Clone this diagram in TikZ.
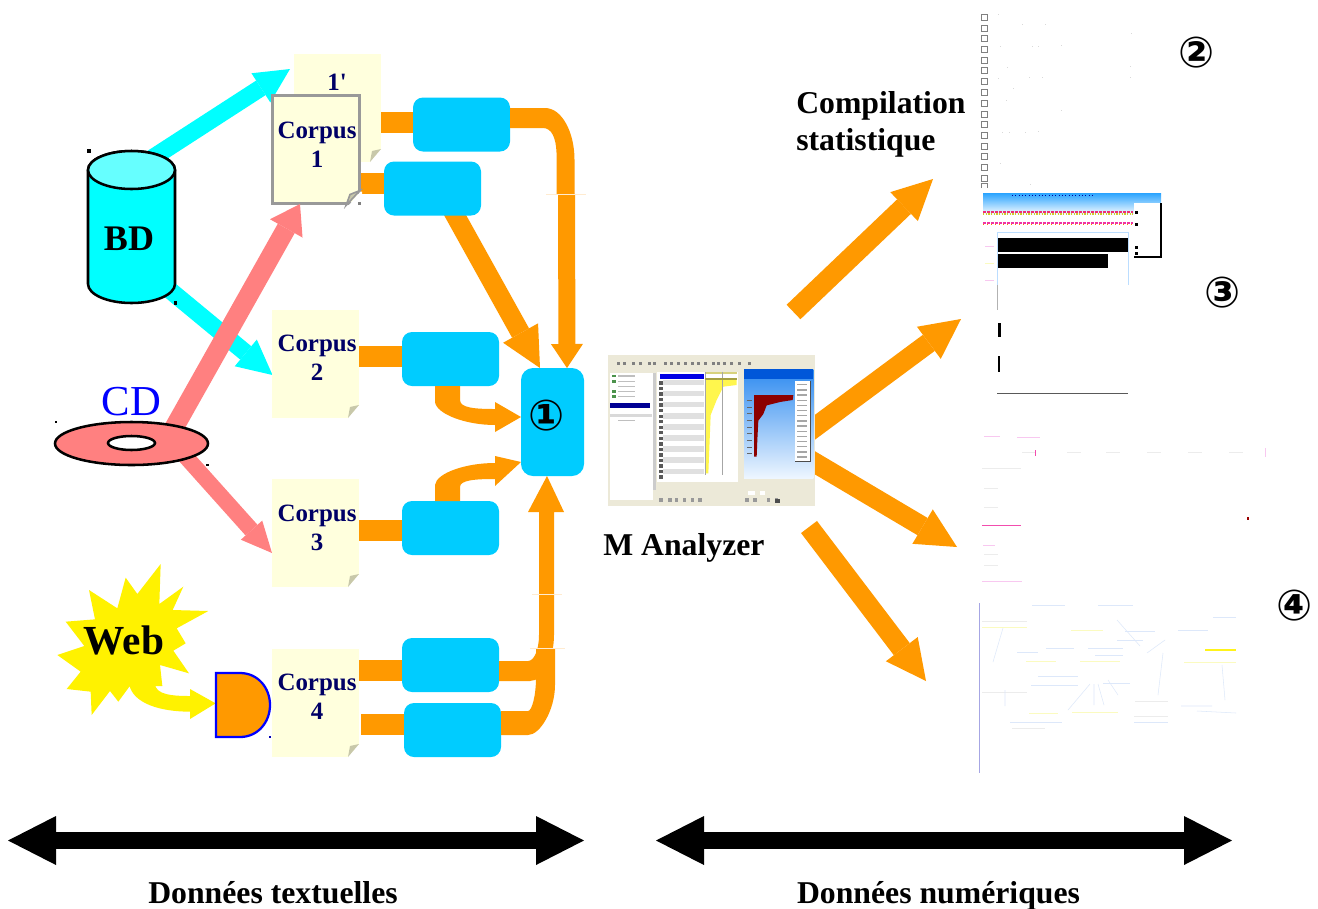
\documentclass[tikz,border=0pt]{standalone}
\usepackage{fontspec}
\setmainfont{Liberation Serif}
\newfontfamily\plainserif{Liberation Serif}
\newfontfamily\symf{DejaVu Sans}
\usetikzlibrary{arrows.meta,calc}
\definecolor{orangec}{HTML}{FF9900}
\definecolor{bluec}{HTML}{00CCFF}
\definecolor{paper}{HTML}{FFFFDD}
\definecolor{foldc}{HTML}{C8C8AA}
\definecolor{navyc}{HTML}{000066}
\definecolor{pinkc}{HTML}{FF8080}
\definecolor{cyanc}{HTML}{00FFFF}
\definecolor{cyantop}{HTML}{66FFFF}
\definecolor{uibg}{HTML}{ECE9D8}
\definecolor{hair}{HTML}{FFEBD0}
\definecolor{paleb}{HTML}{DDE8FA}
\definecolor{framec}{HTML}{BBDDFF}
\definecolor{paley}{HTML}{FBFBC0}
\definecolor{paleg}{HTML}{ECECEC}
\definecolor{palem}{HTML}{F8C8F0}
\pgfdeclarelayer{back}
\pgfsetlayers{back,main}
\tikzset{
  barrow/.style n args={3}{line width=#1,-{Triangle[length=#2,width=#3,line width=0pt]}},
  cyanarrow/.style={draw=cyanc,fill=cyanc,barrow={13pt}{26pt}{26pt}},
  pinkarrow/.style={draw=pinkc,fill=pinkc,barrow={14.5pt}{21pt}{28pt}},
  pinksmall/.style={draw=pinkc,fill=pinkc,barrow={12pt}{23pt}{21.5pt}},
  bigorange/.style={draw=orangec,fill=orangec,barrow={15pt}{30pt}{30pt}},
  pipe/.style={draw=orangec,line width=15.75pt},
  flow/.style={fill=orangec},
  corpusbox/.style={fill=paper,inner sep=0pt,outer sep=0pt,minimum width=65.25pt,minimum height=81pt},
  corpustxt/.style={text=navyc,font=\bfseries\fontsize{18.7}{21.8}\selectfont,align=center,inner sep=0pt},
  procbox/.style={fill=bluec,rounded corners=7.5pt,inner sep=0pt,outer sep=0pt,minimum width=72.75pt,minimum height=40.5pt},
  labeltxt/.style={font=\bfseries\fontsize{23.8}{27.8}\selectfont,inner sep=0pt},
  numtxt/.style={font=\symf\bfseries\fontsize{32}{35}\selectfont,inner sep=0pt},
  blackarrow/.style={draw=black,line width=12.4pt,{Triangle[length=36pt,width=36.75pt,line width=0pt]}-{Triangle[length=36pt,width=36.75pt,line width=0pt]}},
  hairline/.style={draw=hair,line width=.5pt},
  speck/.style={fill=black,minimum size=3pt,inner sep=0pt,outer sep=0pt}
}
\newcommand{\dogear}[1]{%
  \fill[white,shift={(#1.south east)}] (-11,0) -- (0,-13) -- (1,-13) -- (1,1) -- (-11,1) -- cycle;
  \fill[foldc,shift={(#1.south east)}] (-11,0) -- (0,-13) -- (-9,-11) -- cycle;}
\begin{document}
\begin{tikzpicture}[x=.75pt,y=-.75pt]
\useasboundingbox (0,0) rectangle (1318,908);
\begin{pgfonlayer}{back}
\fill[white] (0,0) rectangle (1318,908);
\end{pgfonlayer}

% ---------- named end points
\coordinate (tipA) at (290,69);   \coordinate (tailA) at (140,166);
\coordinate (tipB) at (272.5,375);  \coordinate (tailB) at (160,282);
\coordinate (tipC) at (300,204);  \coordinate (tailC) at (170,435);
\coordinate (tipD) at (272,553);  \coordinate (tailD) at (178,448);
\coordinate (tipE) at (540,368);
\coordinate (tipF) at (567,368);  \coordinate (tailF) at (566.5,194);
\coordinate (r1s) at (793.5,312); \coordinate (r1e) at (933,179);
\coordinate (r2s) at (795,442);   \coordinate (r2e) at (961,319);
\coordinate (r3s) at (795,451);   \coordinate (r3e) at (957,547);
\coordinate (r4s) at (809,527);   \coordinate (r4e) at (926,681);
\coordinate (la) at (8,840.5);    \coordinate (lb) at (584,840.5);
\coordinate (ra) at (656,840.5);  \coordinate (rb) at (1232,840.5);

% ---------- source arrows
\draw[cyanarrow] (tailA) -- (tipA);
\draw[cyanarrow] (tailB) -- (tipB);
\draw[pinksmall] (tailD) -- (tipD);

% ---------- corpus pages
\node[corpusbox] (c1b) at (337.5,108) {};
\dogear{c1b}
\node[corpusbox] (c2) at (315.5,364) {};  \dogear{c2}
\node[corpusbox] (c3) at (315.5,533) {};  \dogear{c3}
\node[corpusbox] (c4) at (315.5,703) {};  \dogear{c4}

% ---------- boxes
\node[procbox] (b1) at (461.5,124.5) {};
\node[procbox] (b2) at (432.5,188.5) {};
\node[procbox] (b3) at (450.5,359) {};
\node[procbox] (b4) at (450.5,528) {};
\node[procbox] (b5) at (450.5,665) {};
\node[procbox] (b6) at (452.5,730) {};
\node[fill=bluec,rounded corners=9pt,inner sep=0pt,outer sep=0pt,minimum width=47.25pt,minimum height=81pt] (hub) at (552.5,422) {};

% ---------- pipes corpus to box
\draw[pipe] (c1b.east |- 0,122.5) -- (b1.west |- 0,122.5);
\draw[pipe] (359,183.5) -- (b2.west |- 0,183.5);
\draw[pipe] (c2.east |- 0,356.5) -- (b3.west |- 0,356.5);
\draw[pipe] (c3.east |- 0,530) -- (b4.west |- 0,530);
\draw[pipe] (c4.east |- 0,670) -- (b5.west |- 0,670);
\draw[pipe] (361,724.5) -- (b6.west |- 0,724.5);

% ---------- box 1 to hub
\fill[flow,shift={(b1.east)}] (0,-16.5) -- (35,-16.5) .. controls (52,-16.5) and (64.5,8) .. (64.5,35) -- (64.5,69.5) -- (46.5,69.5) -- (46.5,28) .. controls (46,14) and (42,3.5) .. (33,3.5) -- (0,3.5) -- cycle;
\draw[orangec,line width=12.75pt,-{Triangle[length=18pt,width=24pt,line width=0pt]}] (tailF) -- (tipF);
\draw[hairline] (546,194) -- (586,194);

% ---------- box 2 to hub
\begin{pgfonlayer}{back}
\draw[draw=orangec,barrow={14.5pt}{30pt}{30pt}] (450,206) -- (tipE);
\end{pgfonlayer}

% ---------- box 3 and box 4 to hub
\fill[flow,shift={(b3.south)}] (-15.5,0) -- (-15.5,16) .. controls (-14,28) and (15,39) .. (44.5,39) -- (44.5,46) -- ([yshift=3.75pt]hub.west) -- (44.5,16) -- (44.5,23) .. controls (25,23) and (9.5,22) .. (9.5,14) -- (9.5,0) -- cycle;
\fill[flow,shift={(b4.north)}] (-15.5,0) -- (-15.5,-16) .. controls (-14,-28) and (15,-38) .. (44.5,-38) -- (44.5,-45) -- ([yshift=-30pt]hub.west) -- (44.5,-15) -- (44.5,-22) .. controls (25,-22) and (9.5,-21) .. (9.5,-14) -- (9.5,0) -- cycle;

% ---------- box 6 and box 5 to hub
\fill[flow,shift={(b6.east)}] (0,-19) -- (27,-19) .. controls (31,-19) and (35,-35) .. (35,-52) -- (35,-82) -- (54,-82) -- (54,-45) .. controls (54,-20) and (39,5) .. (27,5) -- (0,5) -- cycle;
\fill[flow,shift={(b5.east)}] (0,-4) -- (29,-4) .. controls (35,-4) and (40,-15) .. (40,-30) -- (40,-153) -- (29,-153) -- ([xshift=-4.125pt]hub.south) -- (65,-153) -- (55,-153) -- (55,-30) .. controls (55,-8) and (45,16) .. (31,16) -- (0,16) -- cycle;
\draw[hairline] (530,648) -- (565,648);
\draw[hairline] (532,594) -- (562,594);

% ---------- corpus 1 on top of its neighbours
\node[corpusbox,draw=black!40,line width=2.25pt] (c1) at (315.5,149.5) {};
\fill[white,shift={(c1.south east)}] (-10,1.5) -- (1.5,-12) -- (3,-12) -- (3,3) -- (-10,3) -- cycle;
\fill[foldc,draw=black!40,line width=1.2pt,shift={(c1.south east)}] (-13,2) -- (1,-13) -- (-9,-9) -- cycle;

% ---------- page labels
\node[corpustxt,font=\plainserif\bfseries\fontsize{18.7}{21.8}\selectfont] (t1b) at (337,82) {1'};
\node[corpustxt] (t1) at (317,144.5) {Corpus\\1};
\node[corpustxt] (t2) at (317,357.5) {Corpus\\2};
\node[corpustxt] (t3) at (317,527.5) {Corpus\\3};
\node[corpustxt] (t4) at (317,696.5) {Corpus\\4};

% ---------- database
\draw[fill=cyanc,draw=black,line width=1.9pt] (88,170) -- (88,284) arc[start angle=180,end angle=0,x radius=43.5,y radius=19] -- (175,170) arc[start angle=0,end angle=-180,x radius=43.5,y radius=19] -- cycle;
\draw[fill=cyantop,draw=black,line width=1.9pt] (131.5,170) ellipse[x radius=43.5,y radius=19];
\node[font=\bfseries\fontsize{27}{30}\selectfont,inner sep=0pt] (bd) at (129,239) {BD};

% ---------- disc
\draw[pinkarrow] (tailC) -- (tipC);
\draw[fill=pinkc,draw=black,line width=1.9pt] (131.5,443.5) ellipse[x radius=76.5,y radius=21.5];
\draw[fill=white,draw=black,line width=1.9pt] (131.5,443) ellipse[x radius=23.5,y radius=7];
\node[text=blue,font=\fontsize{32}{36}\selectfont,inner sep=0pt] (cd) at (131.5,402) {CD};

% ---------- web burst, arrow and gate
\begin{scope}[shift={(40,560)},x=.25pt,y=-.25pt]
\fill[yellow] (362,12) -- (358,132) -- (430,80) -- (398,150) -- (505,153) -- (410,205) -- (437,250) -- (400,272) -- (447,340) -- (360,315) -- (367,378) -- (268,380) -- (235,425) -- (210,393) -- (155,465) -- (152,395) -- (80,387) -- (122,335) -- (52,285) -- (133,258) -- (77,185) -- (165,178) -- (147,90) -- (232,145) -- (257,53) -- (292,102) -- cycle;
\fill[yellow] (268,375) .. controls (280,430) and (360,455) .. (450,455) -- (450,477) -- (527,430) -- (450,387) -- (450,408) .. controls (400,408) and (345,405) .. (345,370) -- cycle;
\end{scope}
\node[font=\bfseries\fontsize{31}{34}\selectfont,inner sep=0pt] (web) at (124,640) {Web};
\draw[fill=orangec,draw=blue,line width=1.7pt] (216,673) -- (240,673) .. controls (258,673) and (270,688) .. (270,705) .. controls (270,722) and (258,737) .. (240,737) -- (216,737) -- cycle;
\coordinate (gate) at (243,705);

% ---------- specks
\node[speck,minimum size=2.6pt] (s1) at (89,151) {};
\node[speck,minimum size=2.6pt] (s2) at (175.5,303) {};
\node[speck,minimum size=2.2pt] (s3) at (56,422) {};
\node[speck,minimum size=2.2pt] (s4) at (207.5,465) {};
\node[speck,minimum size=2.2pt,fill=black!50] (s5) at (359.5,203.5) {};
\node[speck,minimum size=2pt,fill=blue!70!black] (s6) at (270,737) {};

% ---------- outgoing arrows
\draw[bigorange] (r1s) -- (r1e);
\draw[bigorange] (r2s) -- (r2e);
\draw[bigorange] (r3s) -- (r3e);
\draw[bigorange] (r4s) -- (r4e);

% ---------- application screenshot
\begin{scope}[shift={(600,340)},x=.25pt,y=-.25pt]
\fill[uibg] (25,45) rectangle (645,497);
\fill[white] (30,100) rectangle (160,480);
\foreach \r in {108,125,155,170} \fill[green!40!black,opacity=.7] (35,\r-4) rectangle (47,\r+4);
\foreach \r in {108,125,140,155,170,225,242} \fill[black!25] (55,\r-2) rectangle (105,\r+2);
\fill[black!15] (30,222) rectangle (155,232);
\fill[navyc!70!blue] (30,188) rectangle (150,205);
\fill[white] (170,95) rectangle (415,425);
\foreach \r in {0,2,...,16} \fill[black!12] (190,120+\r*16.6) rectangle (312,136+\r*16.6);
\foreach \r in {0,1,...,17} \fill[black!65] (178,124+\r*16.6) rectangle (188,134+\r*16.6);
\fill[yellow!70] (315,120) -- (410,120) -- (410,135) -- (370,140) -- (350,180) -- (332,225) -- (325,400) -- (315,400) -- cycle;
\fill[yellow!70!black!60] (315,95) rectangle (410,103);
\draw[black!35,line width=.4pt] (368,95) -- (368,405) (315,95) -- (315,405);
\fill[blue!90!black] (180,103) rectangle (312,117);
\fill[yellow!60!black] (315,115) rectangle (410,121);
\fill[black!20] (160,100) rectangle (168,450);
\shade[top color={rgb,255:red,48;green,140;blue,240},bottom color={rgb,255:red,238;green,246;blue,255}] (432,88) rectangle (640,415);
\fill[blue!60!cyan!85!black] (432,88) rectangle (640,118);
\fill[red!55!black] (462,165) -- (580,165) -- (578,180) -- (540,186) -- (500,196) -- (490,222) -- (475,242) -- (472,300) -- (470,350) -- (462,350) -- cycle;
\fill[white] (585,122) rectangle (630,365);
\draw[black!70,line width=.6pt] (630,122) -- (630,365) -- (585,365);
\foreach \r in {0,1,...,14} \fill[black!35] (590,132+\r*15.5) rectangle (622,136+\r*15.5);
\foreach \r in {0,1,...,8} \fill[black!60] (440,180+\r*20) rectangle (455,183+\r*20);
\foreach \c in {52,70,95,118,143,160,192,210,230,252,272,290,312,335,352,370,390,415,445} \fill[black!50] (\c,65) rectangle (\c+9,75);
\foreach \c in {178,205,225,248,272,295,436,460,500,525} \fill[black!40] (\c,475) rectangle (\c+10,485);
\fill[white] (445,452) rectangle (465,465);\fill[white] (480,452) rectangle (495,465);
\fill[black!70] (525,478) rectangle (540,488);
\end{scope}

% ---------- text labels
\node[labeltxt,align=left,anchor=west] (comp) at (796,124) {Compilation\\statistique};
\node[labeltxt,anchor=west] (man) at (603,548) {M Analyzer};
\node[labeltxt,anchor=base] (dt) at (273,903) {Données textuelles};
\node[labeltxt,anchor=base] (dn) at (938.5,903) {Données numériques};
\node[numtxt] (n1) at (547,416) {①};
\node[numtxt] (n2) at (1197,53) {②};
\node[numtxt] (n3) at (1223,293) {③};
\node[numtxt] (n4) at (1295,606) {④};

% ---------- double arrows
\draw[blackarrow] (la) -- (lb);
\draw[blackarrow] (ra) -- (rb);

% ---------- degraded page 2: column of check boxes
\foreach \yy in {14,25,35,46,57,67,78,89,100,111,121,132,143,153,164,175}
  \draw[black!50,line width=.7pt] (981,\yy) rectangle (987.5,\yy+6.5);
\draw[black!50,line width=.7pt] (981,188) -- (981,183) -- (987.5,183) -- (987.5,188);
\foreach \px/\py in {998/14,1022/24,1045/24,1131/33,1000/46,1032/46,1038/46,1061/45,1007/67,1029/77,1130/66,1130/77,998/78,1042/77,1013/88,1006/100,1061/110,1002/132,1009/132,1025/132,1038/131,1000/163,1030/184}
  \fill[black!15] (\px,\py) rectangle (\px+1,\py+1);

% ---------- degraded page 3: bar chart
\shade[top color=framec!40!blue!55!cyan,bottom color=white] (983,193) rectangle (1161,215);
\draw[blue!60!black,line width=.5pt,dotted] (1012,195) -- (1095,195);
\draw[magenta!70!orange,line width=1.6pt,dash pattern=on 2pt off 1pt] (983,212) -- (1133,212);
\draw[yellow!80!black,line width=.8pt,dash pattern=on 1pt off 1pt] (983,214) -- (1133,214);
\draw[magenta!80,line width=1pt,dash pattern=on 2pt off 1pt] (983,223) -- (1133,223);
\draw[orange,line width=.7pt,dash pattern=on 1pt off 2pt] (983,224) -- (1133,224);
\fill[white] (1134,203) rectangle (1161,257);
\draw[black,line width=.9pt] (1161,203) -- (1161,257) -- (1134,257);
\foreach \py in {212,224,247,253} \fill[black] (1135,\py-1.5) rectangle (1138,\py+1.5);
\draw[framec,line width=.7pt] (997,232) -- (1128,232) -- (1128,285);
\draw[framec,line width=.7pt] (997,232) -- (997,300);
\fill[black] (997.5,238) rectangle (1128,252);
\fill[black] (997.5,254) rectangle (1108,268);
\fill[black] (997.5,323) rectangle (1001,337);
\fill[black] (997.5,356) rectangle (1000,372);
\draw[black!65,line width=.7pt] (997,393) -- (1128,393);
\draw[black!30,line width=.5pt] (997,285) -- (997,310);
\draw[palem,line width=.5pt] (985,246) -- (994,246);
\draw[paley,line width=.5pt] (985,263) -- (994,263);
\draw[palem,line width=.5pt] (985,280) -- (994,280);

% ---------- degraded page 3b: table
\draw[palem,line width=.5pt] (984,436) -- (1000,436) (1017,437) -- (1040,437);
\foreach \px in {1022,1067,1106,1147,1188,1229}
  \draw[paleg,line width=.5pt] (\px,452) -- (\px+14,452);
\draw[palem,line width=.6pt] (1265,448) -- (1265,457);
\draw[magenta!70,line width=.6pt] (1035,450) -- (1035,456);
\draw[paleg,line width=.5pt] (982,468) -- (1021,468);
\draw[paleg,line width=.5pt] (984,488) -- (998,488) (984,507) -- (998,507) (984,554) -- (998,554) (984,565) -- (998,565);
\draw[magenta!70,line width=.7pt] (982,525) -- (1021,525);
\draw[palem,line width=.7pt] (983,545) -- (995,545);
\draw[palem,line width=.6pt] (982,581) -- (1022,581);
\fill[red!60!black] (1247,517) rectangle (1248.5,520);

% ---------- degraded page 4: concept map
\draw[blue!70!black!35,line width=.7pt] (979,603) -- (979,773);
\begin{scope}[line width=.4pt]
\draw[paleg] (982,621) -- (1027,621) (982,692) -- (1027,692);
\draw[paley] (982,627) -- (1027,627) (1071,630) -- (1103,630) (1184,662) -- (1236,662);
\draw[yellow!90,line width=.8pt] (1205,650) -- (1236,650);
\draw[paleb] (1032,605) -- (1065,605) (1098,605) -- (1133,605) (1213,617) -- (1236,617) (1125,631) -- (1155,631) (1178,630) -- (1208,630) (1117,640) -- (1143,640);
\draw[paleb] (1017,652) -- (1038,652) (1046,648) -- (1074,648) (1088,648) -- (1123,648) (1095,655) -- (1123,655);
\draw[paley] (1026,661) -- (1056,661) (1080,661) -- (1120,661);
\draw[paleb] (1038,676) -- (1078,676) (1031,685) -- (1078,685) (1103,683) -- (1130,683);
\draw[paleg] (1135,701) -- (1168,701) (1134,716) -- (1168,716);
\draw[paleb] (1010,722) -- (1062,722) (1134,722) -- (1168,722);
\draw[paleg] (1012,728) -- (1045,728);
\draw[paleb] (1003,628) -- (993,662) (1005,690) -- (1005,706) (1117,620) -- (1140,646);
\draw[paleb] (1147,653) -- (1165,640) (1163,653) -- (1158,695) (1222,665) -- (1225,700) (1090,684) -- (1068,710) (1094,684) -- (1094,705) (1098,684) -- (1104,705) (1108,680) -- (1118,695);
\draw[paleb] (1181,706) -- (1212,706) (1197,711) -- (1236,713);
\draw[paley] (1029,713) -- (1058,713) (1072,712) -- (1118,712);
\end{scope}
\end{tikzpicture}
\end{document}
